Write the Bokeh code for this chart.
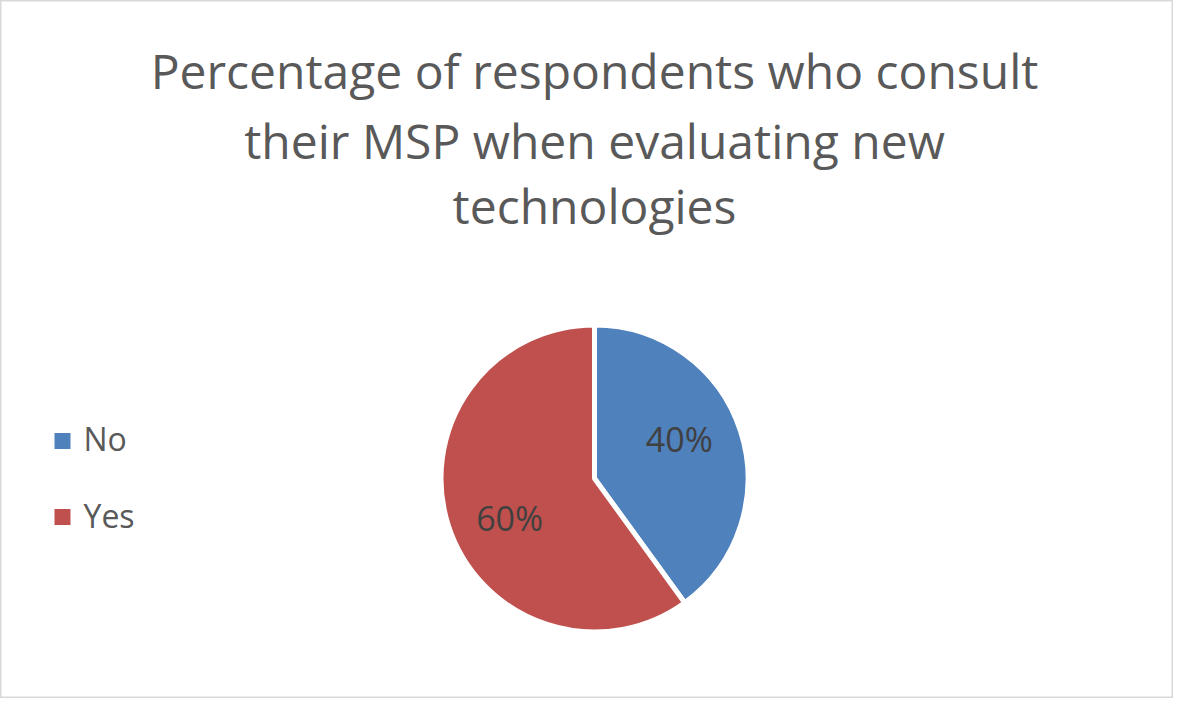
import numpy as np
from bokeh.plotting import figure
from bokeh.models import Range1d, ColumnDataSource
from bokeh.core.properties import value
from bokeh.embed import file_html
from bokeh.resources import INLINE

# ---- data ----
categories = ["No", "Yes"]
shares = [40, 60]
colors = ["#4f81bd", "#c0504d"]
title_lines = ["Percentage of respondents who consult",
               "their MSP when evaluating new",
               "technologies"]

W, H = 1173, 698
FONT = "Open Sans"

p = figure(width=W, height=H, output_backend="svg", toolbar_location=None,
           x_range=Range1d(0, W), y_range=Range1d(0, H), min_border=0)
p.axis.visible = False
p.grid.visible = False
p.background_fill_color = "white"
p.border_fill_color = "white"
p.outline_line_color = "#d9d9d9"
p.outline_line_width = 2

def Y(ref_y):
    return H - ref_y

def X(ref_x):
    return ref_x

# ---- pie ----
cx, cy, r = X(594), Y(478), 153.5
vals = np.array(shares, dtype=float)
frac = vals / vals.sum()
ends = np.pi / 2 - 2 * np.pi * np.concatenate([[0], np.cumsum(frac)[:-1]])
starts = ends - 2 * np.pi * frac
mids = (starts + ends) / 2
src = ColumnDataSource(dict(start=starts, end=ends, color=colors, cat=categories))
p.wedge(x=cx, y=cy, radius=r, start_angle="start", end_angle="end",
        fill_color="color", line_color="white", line_width=5, source=src)

# data labels
shift = np.deg2rad(7)
lr = 0.61 * r
lab = ColumnDataSource(dict(
    x=cx + lr * np.cos(mids + shift),
    y=cy + lr * np.sin(mids + shift),
    t=[f"{v:.0f}%" for v in frac * 100]))
p.text(x="x", y="y", text="t", source=lab, text_align="center",
       text_baseline="middle", text_font=value(FONT),
       text_font_size="34px", text_color="#404040")

# ---- title ----
tsrc = ColumnDataSource(dict(x=[X(594)] * 3, y=[Y(69.5), Y(139.5), Y(204.5)], t=title_lines))
p.text(x="x", y="y", text="t", source=tsrc, text_align="center",
       text_baseline="middle", text_font=value(FONT),
       text_font_size="48px", text_color="#595959")

# ---- legend ----
ly = [Y(440.5), Y(516.5)]
lsrc = ColumnDataSource(dict(x=[X(62)] * 2, y=ly, color=colors,
                             tx=[X(83)] * 2, ty=[Y(437.5), Y(515)], cat=categories))
p.scatter(x="x", y="y", marker="square", size=16, fill_color="color",
          line_color=None, source=lsrc)
p.text(x="tx", y="ty", text="cat", source=lsrc, text_align="left",
       text_baseline="middle", text_font=value(FONT),
       text_font_size="32px", text_color="#595959")

open("out.html", "w").write(file_html(p, INLINE))
